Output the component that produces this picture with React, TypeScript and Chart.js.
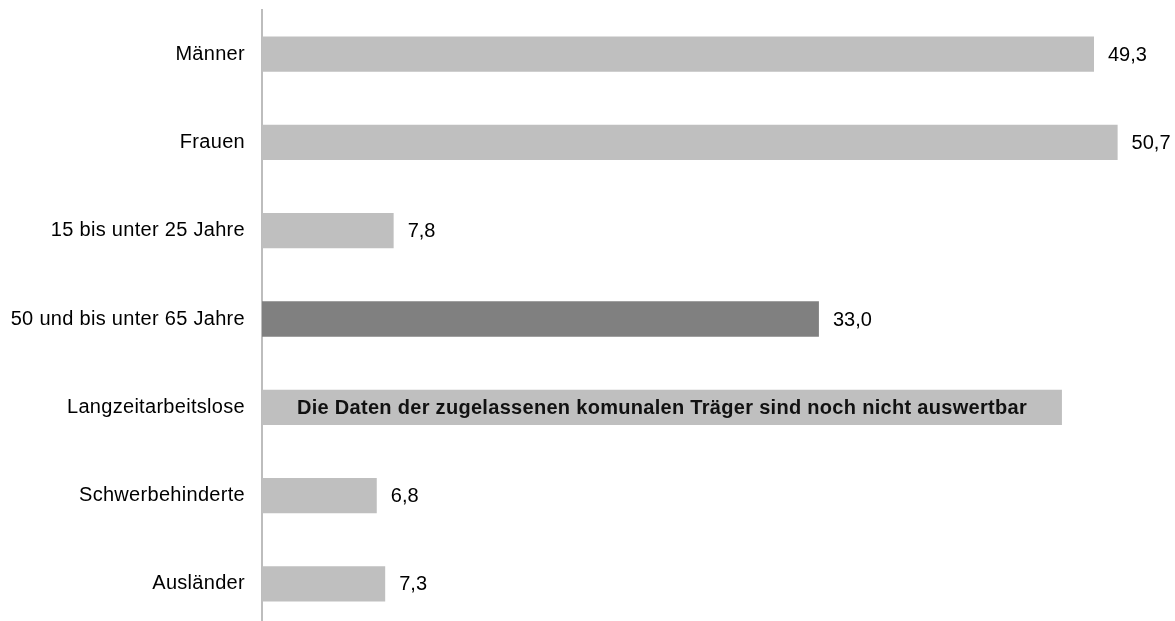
import React, { useEffect, useRef } from 'react';
import { Chart, registerables } from 'chart.js';

Chart.register(...registerables);

const categories = [
  'Männer',
  'Frauen',
  '15 bis unter 25 Jahre',
  '50 und bis unter 65 Jahre',
  'Langzeitarbeitslose',
  'Schwerbehinderte',
  'Ausländer',
];
const values = [49.3, 50.7, 7.8, 33.0, 47.4, 6.8, 7.3];
const showValue = [true, true, true, true, false, true, true];
const highlighted = [false, false, false, true, false, false, false];
const noteIndex = 4;
const noteText = 'Die Daten der zugelassenen komunalen Träger sind noch nicht auswertbar';
const xMax = 54.1;

const LIGHT = '#BFBFBF';
const DARK = '#808080';
const FONT = '"Liberation Sans", Arial, sans-serif';

const labelPlugin = {
  id: 'labelPlugin',
  beforeDraw(chart: any) {
    try {
      (chart.ctx as any).letterSpacing = '0.3px';
    } catch (e) {}
  },
  afterDatasetsDraw(chart: any) {
    const ctx = chart.ctx;
    const meta = chart.getDatasetMeta(0);
    ctx.save();
    meta.data.forEach((el: any, i: number) => {
      if (i === noteIndex) {
        try { (ctx as any).letterSpacing = '0.3px'; } catch (e) {}
        ctx.font = `bold 20px ${FONT}`;
        ctx.fillStyle = '#111';
        ctx.textAlign = 'center';
        ctx.textBaseline = 'middle';
        ctx.fillText(noteText, (el.base + el.x) / 2, el.y + 1);
      } else if (showValue[i]) {
        try { (ctx as any).letterSpacing = '0px'; } catch (e) {}
        ctx.font = `20px ${FONT}`;
        ctx.fillStyle = '#000';
        ctx.textAlign = 'left';
        ctx.textBaseline = 'middle';
        ctx.fillText(values[i].toFixed(1).replace('.', ','), el.x + 14, el.y + 1);
      }
    });
    ctx.restore();
  },
};

export default function App() {
  const ref = useRef<HTMLCanvasElement | null>(null);

  useEffect(() => {
    if (!ref.current) return;
    const chart = new Chart(ref.current, {
      type: 'bar',
      data: {
        labels: categories,
        datasets: [
          {
            data: values,
            backgroundColor: values.map((_, i) => (highlighted[i] ? DARK : LIGHT)),
            borderWidth: 0,
            barPercentage: 0.4,
            categoryPercentage: 1,
          },
        ],
      },
      options: {
        indexAxis: 'y',
        responsive: false,
        maintainAspectRatio: false,
        animation: false,
        events: [],
        layout: { padding: { left: 0, right: 0, top: 10, bottom: 2 } },
        plugins: {
          legend: { display: false },
          tooltip: { enabled: false },
          title: { display: false },
        },
        scales: {
          x: {
            display: false,
            min: 0,
            max: xMax,
          },
          y: {
            position: 'left',
            grid: { display: false, drawTicks: false },
            border: { display: true, color: '#BDBDBD', width: 2 },
            ticks: {
              color: '#000',
              padding: 17,
              font: { family: FONT, size: 20 },
            },
            afterFit(scale: any) {
              scale.width = 262;
              scale.paddingTop = 0;
              scale.paddingBottom = 0;
            },
          },
        },
      },
      plugins: [labelPlugin],
    });
    return () => chart.destroy();
  }, []);

  return (
    <div style={{ position: 'fixed', left: 0, top: 0, width: 1175, height: 630, background: '#fff' }}>
      <canvas ref={ref} width={1175} height={630} style={{ display: 'block' }} />
    </div>
  );
}
